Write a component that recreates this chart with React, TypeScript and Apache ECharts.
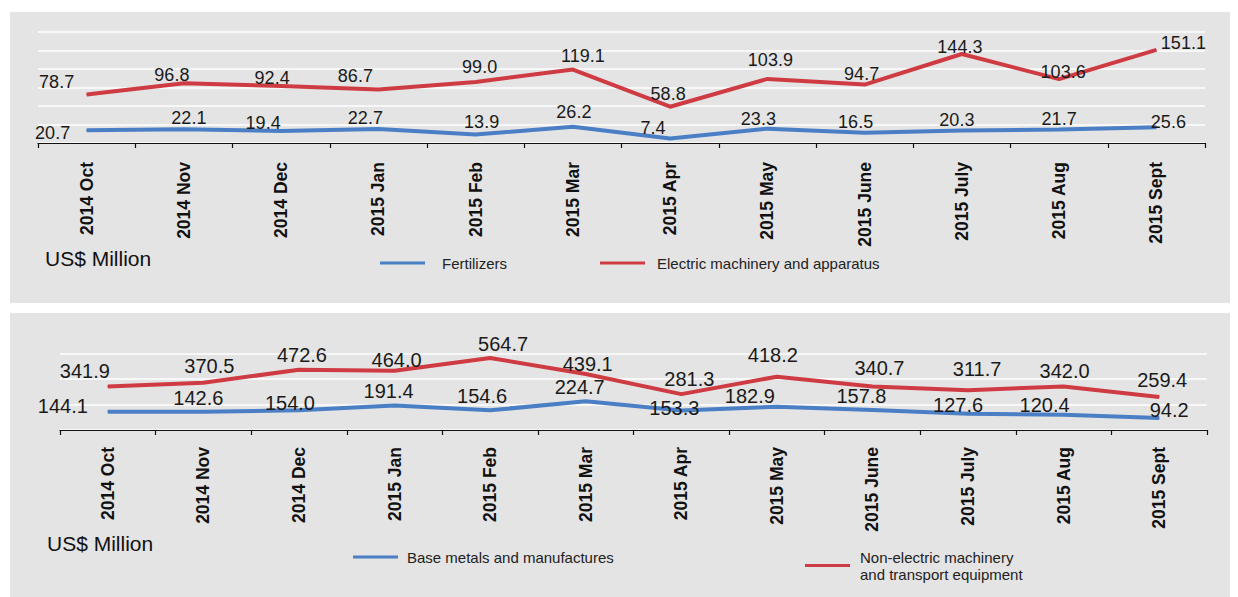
import React, { useEffect, useRef } from "react";
import * as echarts from "echarts";

const months = [
  "2014 Oct", "2014 Nov", "2014 Dec", "2015 Jan", "2015 Feb", "2015 Mar",
  "2015 Apr", "2015 May", "2015 June", "2015 July", "2015 Aug", "2015 Sept",
];

const fertilizers = [20.7, 22.1, 19.4, 22.7, 13.9, 26.2, 7.4, 23.3, 16.5, 20.3, 21.7, 25.6];
const electricMachinery = [78.7, 96.8, 92.4, 86.7, 99.0, 119.1, 58.8, 103.9, 94.7, 144.3, 103.6, 151.1];
const baseMetals = [144.1, 142.6, 154.0, 191.4, 154.6, 224.7, 153.3, 182.9, 157.8, 127.6, 120.4, 94.2];
const nonElectric = [341.9, 370.5, 472.6, 464.0, 564.7, 439.1, 281.3, 418.2, 340.7, 311.7, 342.0, 259.4];

const topAxisTicks = { min: 0, max: 180, interval: 30 };
const bottomAxisTicks = { min: 0, max: 600, interval: 200 };

const unitLabel = "US$ Million";

// label nudges (style only) relative to the default "top" position
const offFert = [[-34, 17], [5, 3], [-18, 6], [-13, 3], [6, 2], [1, 0], [-17, 4], [-9, 5], [-9, 4], [-5, 4], [0, 4], [12, 9]];
const offElec = [[-30, 2], [-12, 6], [-9, 6], [-23, 1], [4, 0], [10, 1], [-2, 2], [3, -4], [-3, 4], [-2, 7], [4, 7], [27, 8]];
const offBase = [[-45, 10], [-5, 2], [-9, 8], [-6, 1], [-8, 1], [-6, 1], [-7, 13], [-27, 5], [-11, 2], [-10, 7], [-19, 6], [10, 8]];
const offNon = [[-23, 0], [6, -1], [3, 1], [2, 5], [13, 1], [2, 5], [8, 0], [-4, -6], [7, -3], [9, -6], [1, 0], [3, -1]];

const RED = "#cf3b42";
const BLUE = "#4a7fc6";
const FONT = "Arial, 'Liberation Sans', sans-serif";

function App() {
  const ref = useRef<HTMLDivElement>(null);

  useEffect(() => {
    if (!ref.current) return;
    const chart = echarts.init(ref.current, null, { renderer: "svg" });

    const mkData = (vals: number[], offs: number[][]) =>
      vals.map((v, i) => ({ value: v, label: { offset: offs[i] } }));

    const mkSeries = (name: string, vals: number[], offs: number[][], color: string, idx: number, fontSize: number) => ({
      name,
      type: "line",
      xAxisIndex: idx,
      yAxisIndex: idx,
      data: mkData(vals, offs),
      symbol: "circle",
      symbolSize: 1,
      lineStyle: { color, width: 4 },
      itemStyle: { color },
      label: {
        show: true,
        position: "top",
        distance: 5,
        color: "#1a1a1a",
        fontSize,
        fontFamily: FONT,
        formatter: (p: any) => Number(p.value).toFixed(1),
      },
      z: 3,
    });

    const xAxisBase = (gridIndex: number, margin: number) => ({
      type: "category",
      gridIndex,
      data: months,
      boundaryGap: true,
      axisLine: { show: true, lineStyle: { color: "#111", width: 1.2 } },
      axisTick: { show: true, length: 5, lineStyle: { color: "#111", width: 1.2 } },
      axisLabel: {
        rotate: 90,
        margin,
        interval: 0,
        fontSize: 17.5,
        fontWeight: "bold",
        fontFamily: FONT,
        color: "#111",
      },
      splitLine: { show: false },
    });

    const yAxisBase = (gridIndex: number, t: any) => ({
      type: "value",
      gridIndex,
      min: t.min,
      max: t.max,
      interval: t.interval,
      axisLabel: { show: false },
      axisLine: { show: false },
      axisTick: { show: false },
      splitLine: { show: true, lineStyle: { color: "#ffffff", width: 1.5 } },
    });

    const legendBase = (name: string, left: number, top: number, padding: number[]) => ({
      data: [name],
      left,
      top,
      padding: 0,
      icon: "rect",
      itemWidth: 45,
      itemHeight: 3,
      selectedMode: false,
      textStyle: { fontSize: 15, fontFamily: FONT, color: "#222", padding, lineHeight: 17 },
    });

    chart.setOption({
      animation: false,
      backgroundColor: "#ffffff",
      grid: [
        { left: 38, top: 32, width: 1167, height: 111 },
        { left: 60, top: 353.5, width: 1147, height: 76.5 },
      ],
      xAxis: [xAxisBase(0, 19), xAxisBase(1, 17)],
      yAxis: [yAxisBase(0, topAxisTicks), yAxisBase(1, bottomAxisTicks)],
      legend: [
        legendBase("Fertilizers", 380, 254.5, [0, 0, 0, 12]),
        legendBase("Electric machinery and apparatus", 600, 254.5, [0, 0, 0, 7]),
        legendBase("Base metals and manufactures", 353, 548.5, [0, 0, 0, 4]),
        legendBase("Non-electric machinery\nand transport equipment", 805, 540, [17, 0, 0, 5]),
      ],
      graphic: [
        { type: "rect", z: -100, silent: true, shape: { x: 10, y: 12, width: 1220, height: 291 }, style: { fill: "#e4e4e4" } },
        { type: "rect", z: -100, silent: true, shape: { x: 10, y: 313, width: 1220, height: 284 }, style: { fill: "#e4e4e4" } },
        { type: "text", x: 45, y: 258, style: { text: unitLabel, fontSize: 21, fontFamily: FONT, fill: "#111", verticalAlign: "middle" } },
        { type: "text", x: 47, y: 543, style: { text: unitLabel, fontSize: 21, fontFamily: FONT, fill: "#111", verticalAlign: "middle" } },
      ],
      series: [
        mkSeries("Fertilizers", fertilizers, offFert, BLUE, 0, 18),
        mkSeries("Electric machinery and apparatus", electricMachinery, offElec, RED, 0, 18),
        mkSeries("Base metals and manufactures", baseMetals, offBase, BLUE, 1, 20),
        mkSeries("Non-electric machinery\nand transport equipment", nonElectric, offNon, RED, 1, 20),
      ],
    });

    return () => chart.dispose();
  }, []);

  return (
    <div
      ref={ref}
      style={{ position: "fixed", left: 0, top: 0, width: 1238, height: 597 }}
    />
  );
}

export default App;
